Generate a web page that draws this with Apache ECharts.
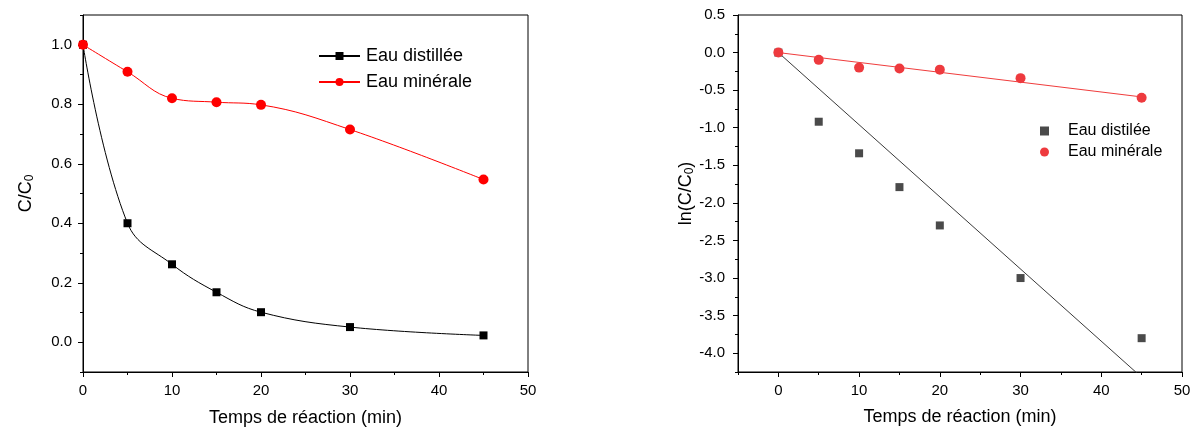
<!DOCTYPE html>
<html>
<head>
<meta charset="utf-8">
<script src="https://cdn.jsdelivr.net/npm/echarts@6/dist/echarts.min.js"></script>
<style>
  html, body { margin: 0; padding: 0; background: #fff; }
  #chart { width: 1191px; height: 428px; }
</style>
</head>
<body>
<div id="chart"></div>
<script>
// Reaction time (min)
const timeMin = [0, 5, 10, 15, 20, 30, 45];

// C/C0 curves
const ratioDistillee = [1.0, 0.40, 0.262, 0.168, 0.101, 0.051, 0.023];
const ratioMinerale = [1.0, 0.909, 0.82, 0.807, 0.798, 0.715, 0.547];

// ln(C/C0) points
const lnDistillee = [0, -0.92, -1.34, -1.79, -2.30, -3.00, -3.80];
const lnMinerale = [0, -0.097, -0.20, -0.213, -0.227, -0.34, -0.60];

// Linear fits (start and end points)
const fitDistillee = [[0, 0], [45, -4.32]];
const fitMinerale = [[0, 0], [45, -0.59]];

// Tick labels
const xTickLabels = [0, 10, 20, 30, 40, 50];
const ratioTickLabels = [0.0, 0.2, 0.4, 0.6, 0.8, 1.0];
const lnTickLabels = [0.5, 0.0, -0.5, -1.0, -1.5, -2.0, -2.5, -3.0, -3.5, -4.0];

const FONT = "'Liberation Sans', Arial, Helvetica, sans-serif";
const BLACK = '#000';

const pairs = (xs, ys) => xs.map((x, i) => [x, ys[i]]);

function mainAxis(opts) {
  return Object.assign({
    type: 'value',
    axisLine: { show: true, onZero: false, lineStyle: { color: BLACK, width: 1 } },
    axisTick: { show: true, inside: false, length: 3, lineStyle: { color: BLACK, width: 1 } },
    splitLine: { show: false },
    nameTextStyle: { color: BLACK, fontFamily: FONT, fontSize: 18 }
  }, opts);
}

function majorTickAxis(opts, majors) {
  return Object.assign({
    type: 'value',
    axisLine: { show: false, onZero: false },
    axisTick: { show: true, inside: false, length: 5, customValues: majors, lineStyle: { color: BLACK, width: 1 } },
    axisLabel: { show: false },
    splitLine: { show: false }
  }, opts);
}

const subRich = {
  s: { fontFamily: FONT, fontSize: 12, color: BLACK, verticalAlign: 'bottom', padding: [7, 0, 0, 0] }
};

const xLabelStyle = { color: BLACK, fontFamily: FONT, fontSize: 15, margin: 11, customValues: xTickLabels };

const chart = echarts.init(document.getElementById('chart'), null, { renderer: 'canvas' });

chart.setOption({
  animation: false,
  backgroundColor: '#fff',
  textStyle: { fontFamily: FONT },
  grid: [
    { left: 83, top: 15, right: 663, bottom: 56, show: true, borderColor: BLACK, borderWidth: 1,
      backgroundColor: 'transparent', containLabel: false, outerBoundsMode: 'none' },
    { left: 738, top: 15, right: 9, bottom: 56, show: true, borderColor: BLACK, borderWidth: 1,
      backgroundColor: 'transparent', containLabel: false, outerBoundsMode: 'none' }
  ],
  legend: [
    {
      left: 313, top: 42, orient: 'vertical',
      itemWidth: 41, itemHeight: 10, itemGap: 8,
      data: ['Eau distillée', 'Eau minérale'],
      textStyle: { color: BLACK, fontFamily: FONT, fontSize: 18, lineHeight: 18, padding: [0, 0, 0, 1] }
    },
    {
      left: 1035, top: 118, orient: 'vertical',
      itemWidth: 9, itemHeight: 9, itemGap: 5,
      data: ['ln Eau distilée', 'ln Eau minérale'],
      formatter: (name) => name.replace(/^ln /, ''),
      textStyle: { color: BLACK, fontFamily: FONT, fontSize: 16, lineHeight: 16, padding: [0, 0, 0, 14] }
    }
  ],
  xAxis: [
    mainAxis({
      gridIndex: 0, position: 'bottom', min: 0, max: 50, interval: 5,
      axisLabel: xLabelStyle,
      name: 'Temps de réaction (min)', nameLocation: 'middle', nameGap: 37
    }),
    majorTickAxis({ gridIndex: 0, position: 'bottom', min: 0, max: 50 }, xTickLabels),
    mainAxis({
      gridIndex: 1, position: 'bottom', min: -5, max: 50, interval: 5,
      axisLabel: xLabelStyle,
      name: 'Temps de réaction (min)', nameLocation: 'middle', nameGap: 36
    }),
    majorTickAxis({ gridIndex: 1, position: 'bottom', min: -5, max: 50 }, xTickLabels)
  ],
  yAxis: [
    mainAxis({
      gridIndex: 0, position: 'left', min: -0.1, max: 1.1, interval: 0.1,
      axisLabel: {
        color: BLACK, fontFamily: FONT, fontSize: 15, margin: 11,
        customValues: ratioTickLabels, formatter: (v) => v.toFixed(1)
      },
      name: 'C/C{s|0}', nameLocation: 'middle', nameRotate: 90, nameGap: 47,
      nameTextStyle: { color: BLACK, fontFamily: FONT, fontSize: 18, rich: subRich }
    }),
    majorTickAxis({ gridIndex: 0, position: 'left', min: -0.1, max: 1.1 }, ratioTickLabels),
    mainAxis({
      gridIndex: 1, position: 'left', min: -4.25, max: 0.5, interval: 0.25,
      axisLabel: {
        color: BLACK, fontFamily: FONT, fontSize: 15, margin: 13,
        customValues: lnTickLabels, formatter: (v) => v.toFixed(1)
      },
      name: 'ln(C/C{s|0})', nameLocation: 'middle', nameRotate: 90, nameGap: 42,
      nameTextStyle: { color: BLACK, fontFamily: FONT, fontSize: 18, rich: subRich }
    }),
    majorTickAxis({ gridIndex: 1, position: 'left', min: -4.25, max: 0.5 }, lnTickLabels)
  ],
  series: [
    {
      name: 'Eau distillée', type: 'line', xAxisIndex: 0, yAxisIndex: 0,
      data: pairs(timeMin, ratioDistillee), smooth: 0.4,
      symbol: 'rect', symbolSize: 8, showAllSymbol: true,
      itemStyle: { color: BLACK }, lineStyle: { color: BLACK, width: 1 }, z: 3
    },
    {
      name: 'Eau minérale', type: 'line', xAxisIndex: 0, yAxisIndex: 0,
      data: pairs(timeMin, ratioMinerale), smooth: 0.4,
      symbol: 'circle', symbolSize: 10, showAllSymbol: true,
      itemStyle: { color: '#ff0000' }, lineStyle: { color: '#ff0000', width: 1 }, z: 4
    },
    {
      name: 'fit distilée', type: 'line', xAxisIndex: 2, yAxisIndex: 2,
      data: fitDistillee, symbol: 'none', silent: true,
      lineStyle: { color: '#3a3a3a', width: 1 }, z: 2
    },
    {
      name: 'fit minérale', type: 'line', xAxisIndex: 2, yAxisIndex: 2,
      data: fitMinerale, symbol: 'none', silent: true,
      lineStyle: { color: '#f03c3c', width: 1 }, z: 2
    },
    {
      name: 'ln Eau distilée', type: 'scatter', xAxisIndex: 2, yAxisIndex: 2,
      data: pairs(timeMin, lnDistillee), symbol: 'rect', symbolSize: 8,
      itemStyle: { color: '#4a4a4a', opacity: 1 }, z: 3
    },
    {
      name: 'ln Eau minérale', type: 'scatter', xAxisIndex: 2, yAxisIndex: 2,
      data: pairs(timeMin, lnMinerale), symbol: 'circle', symbolSize: 10,
      itemStyle: { color: '#ee3a3e', opacity: 1 }, z: 4
    }
  ]
});
</script>
</body>
</html>
